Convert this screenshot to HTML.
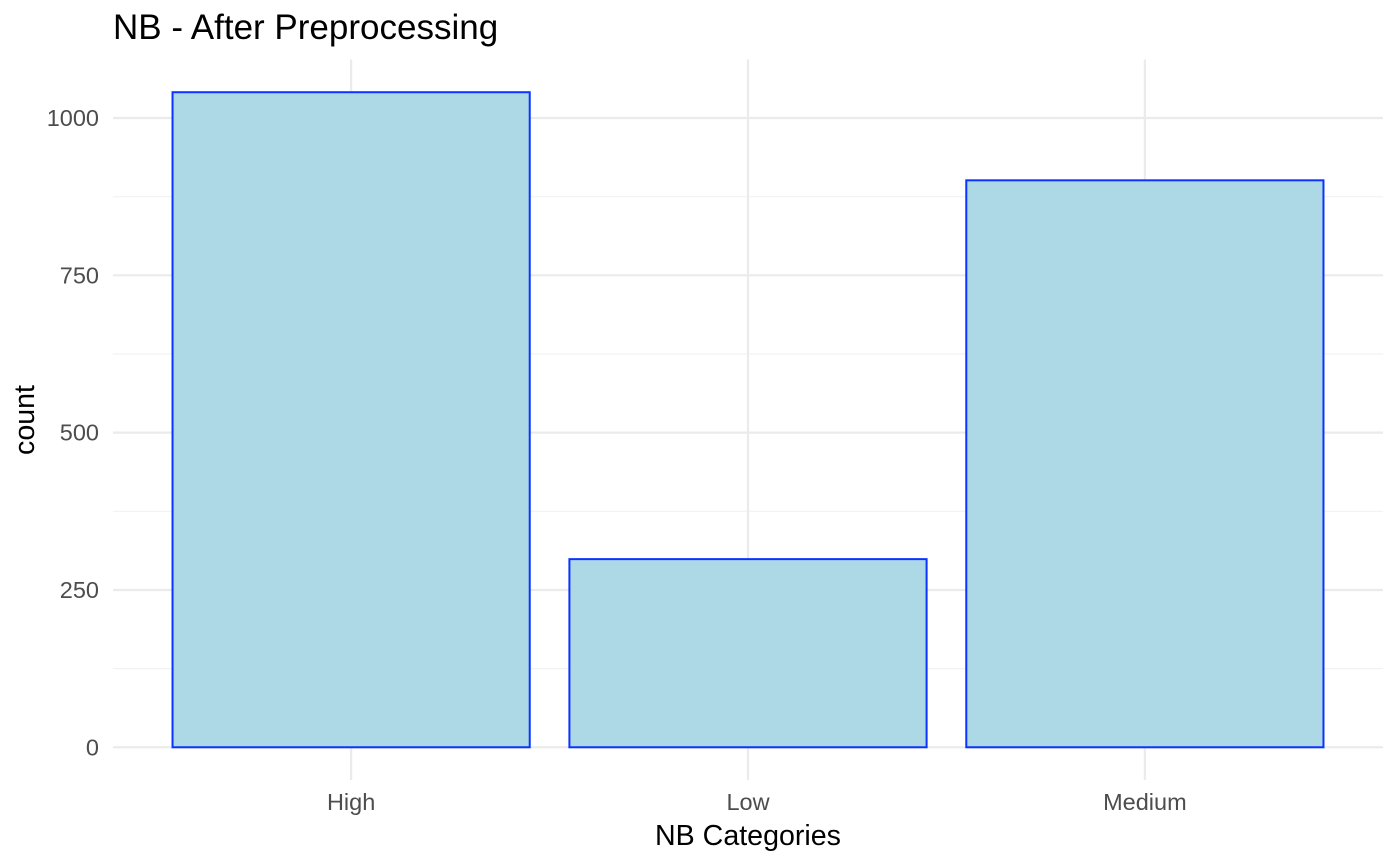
<!DOCTYPE html>
<html><head><meta charset="utf-8"><style>
body{margin:0;background:#fff;font-family:"Liberation Sans",Arial,sans-serif}
svg{display:block}
</style></head><body>
<svg width="1392" height="858" id="chart">
<text x="113" y="39" font-size="35" fill="#000">NB - After Preprocessing</text>
<text x="748" y="845" font-size="28.6" text-anchor="middle" fill="#000">NB Categories</text>
<text transform="translate(34,420) rotate(-90)" font-size="28.6" text-anchor="middle" fill="#000">count</text>
</svg>
<script>
const categories=["High","Low","Medium"];
const counts=[1041,299,901];
const yTicks=[0,250,500,750,1000];
const yMinor=[125,375,625,875];
const svg=document.getElementById('chart');
const NS="http://www.w3.org/2000/svg";
const L=113,R=1383,T=59.5,B=780;
const ymin=-52,ymax=1093;
const y=v=>B-(v-ymin)/(ymax-ymin)*(B-T);
const step=(R-L)/(categories.length-1+1.2);
const x=i=>L+step*(0.6+i);
function mk(tag,attrs){const e=document.createElementNS(NS,tag);for(const k in attrs)e.setAttribute(k,attrs[k]);svg.appendChild(e);return e;}
yMinor.forEach(v=>{const e=mk('line',{x1:L,x2:R,y1:y(v),y2:y(v),stroke:'#f2f2f2','stroke-width':1.2});

});
yTicks.forEach(v=>{const e=mk('line',{x1:L,x2:R,y1:y(v),y2:y(v),stroke:'#ebebeb','stroke-width':2.2});


const t=mk('text',{x:99,y:y(v)+8,'font-size':23.5,'text-anchor':'end',fill:'#4d4d4d'});t.textContent=v;

});
categories.forEach((c,i)=>{const e=mk('line',{x1:x(i),x2:x(i),y1:T,y2:B,stroke:'#ebebeb','stroke-width':2.2});

});
categories.forEach((c,i)=>{const w=step*0.9;
const r=mk('rect',{x:x(i)-w/2,y:y(counts[i]),width:w,height:y(0)-y(counts[i]),fill:'#add8e6',stroke:'#0a33ff','stroke-width':2});


const t=mk('text',{x:x(i),y:810,'font-size':23.5,'text-anchor':'middle',fill:'#4d4d4d'});t.textContent=c;

});
</script>
</body></html>
